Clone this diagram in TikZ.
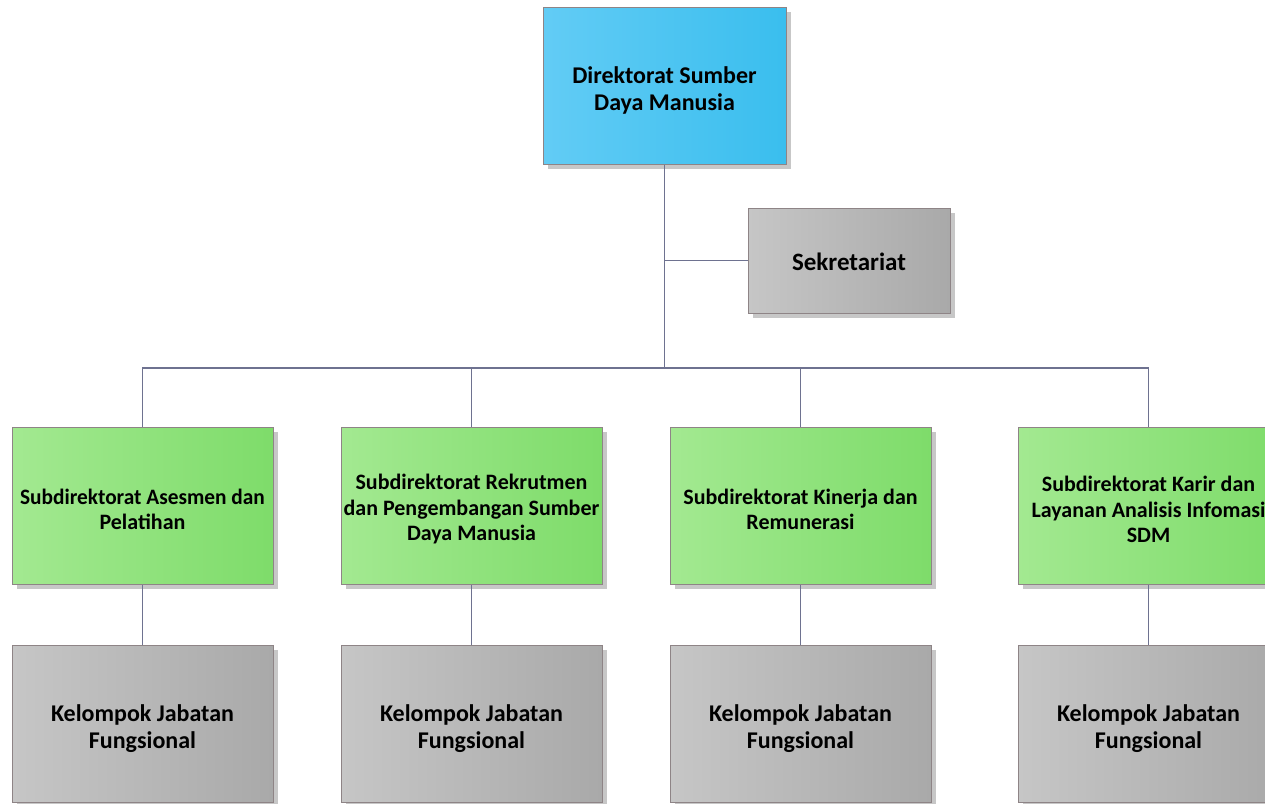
\documentclass[tikz,border=0pt]{standalone}
\usepackage{fontspec}
\setmainfont{Carlito}
\usetikzlibrary{shadows}
\definecolor{lineC}{HTML}{6E7290}
\definecolor{edgeC}{HTML}{8E8486}
\definecolor{blueL}{HTML}{62CCF5}
\definecolor{blueM}{HTML}{5AC9F3}
\definecolor{blueR}{HTML}{3ABEEE}
\definecolor{greenL}{HTML}{A3E991}
\definecolor{greenM}{HTML}{ACEC9C}
\definecolor{greenR}{HTML}{7EDC6A}
\definecolor{grayL}{HTML}{C6C6C6}
\definecolor{grayM}{HTML}{C0C0C0}
\definecolor{grayR}{HTML}{A9A9A9}
\tikzset{
  box/.style={draw=edgeC, line width=1pt, rectangle,
    general shadow={fill=black!22, shadow xshift=5pt, shadow yshift=-5pt}},
  headbox/.style={box, left color=blueL, middle color=blueM, right color=blueR,
    minimum width=243pt, minimum height=157pt},
  secbox/.style={box, left color=grayL, middle color=grayM, right color=grayR,
    minimum width=202pt, minimum height=105pt},
  subbox/.style={box, left color=greenL, middle color=greenM, right color=greenR,
    minimum width=261pt, minimum height=157pt},
  grpbox/.style={box, left color=grayL, middle color=grayM, right color=grayR,
    minimum width=261pt, minimum height=157pt},
  txt/.style={align=center, inner sep=0pt,
    font=\bfseries\fontsize{24}{27}\selectfont},
  toptxt/.style={txt, yshift=-5pt},
  sectxt/.style={txt, yshift=-1pt, font=\bfseries\fontsize{25}{28}\selectfont},
  subtxt/.style={txt, yshift=-4pt, font=\bfseries\fontsize{22}{25.5}\selectfont},
  grptxt/.style={txt, yshift=-5pt},
  link/.style={draw=lineC, line width=1.4pt}
}
\begin{document}
\begin{tikzpicture}[x=1pt,y=-1pt]
\useasboundingbox (0,0) rectangle (1265,803);
\clip (0,0) rectangle (1265,803);

% head of the directorate and its secretariat
\node[headbox] (top) at (664.5,85.5) {};
\node[toptxt] (topT) at (top.center) {Direktorat Sumber\\ Daya Manusia};
\node[secbox] (sek) at (849,260.5) {};
\node[sectxt] (sekT) at (sek.center) {Sekretariat};

% sub-directorates
\node[subbox] (g1) at (142.5,505.5) {};
\node[subtxt] (g1T) at (g1.center) {\scalebox{0.97}[1]{Subdirektorat Asesmen dan}\\Pelatihan};
\node[subbox] (g2) at (471.5,505.5) {};
\node[subtxt] (g2T) at (g2.center) {Subdirektorat Rekrutmen\\dan Pengembangan Sumber\\Daya Manusia};
\node[subbox] (g3) at (800.5,505.5) {};
\node[subtxt] (g3T) at (g3.center) {Subdirektorat Kinerja dan\\Remunerasi};
\node[subbox] (g4) at (1148.5,505.5) {};
\node[subtxt] (g4T) at (g4.center) {Subdirektorat Karir dan\\Layanan Analisis Infomasi\\SDM};

% functional groups
\foreach \i/\x in {1/142.5, 2/471.5, 3/800.5, 4/1148.5} {
  \node[grpbox] (k\i) at (\x,723.5) {};
  \node[grptxt] (k\i T) at (k\i.center) {Kelompok Jabatan\\Fungsional};
}

% connectors
\coordinate (hub) at (664.5,368);
\draw[link] (top.south) -- (hub);
\draw[link] (sek.west) -- (sek.west -| top.south);
\draw[link] (g1.north) -- (g1.north |- hub) -- (g4.north |- hub) -- (g4.north);
\draw[link] (g2.north) -- (g2.north |- hub);
\draw[link] (g3.north) -- (g3.north |- hub);
\draw[link] (g1.south) -- (k1.north);
\draw[link] (g2.south) -- (k2.north);
\draw[link] (g3.south) -- (k3.north);
\draw[link] (g4.south) -- (k4.north);
\end{tikzpicture}
\end{document}
